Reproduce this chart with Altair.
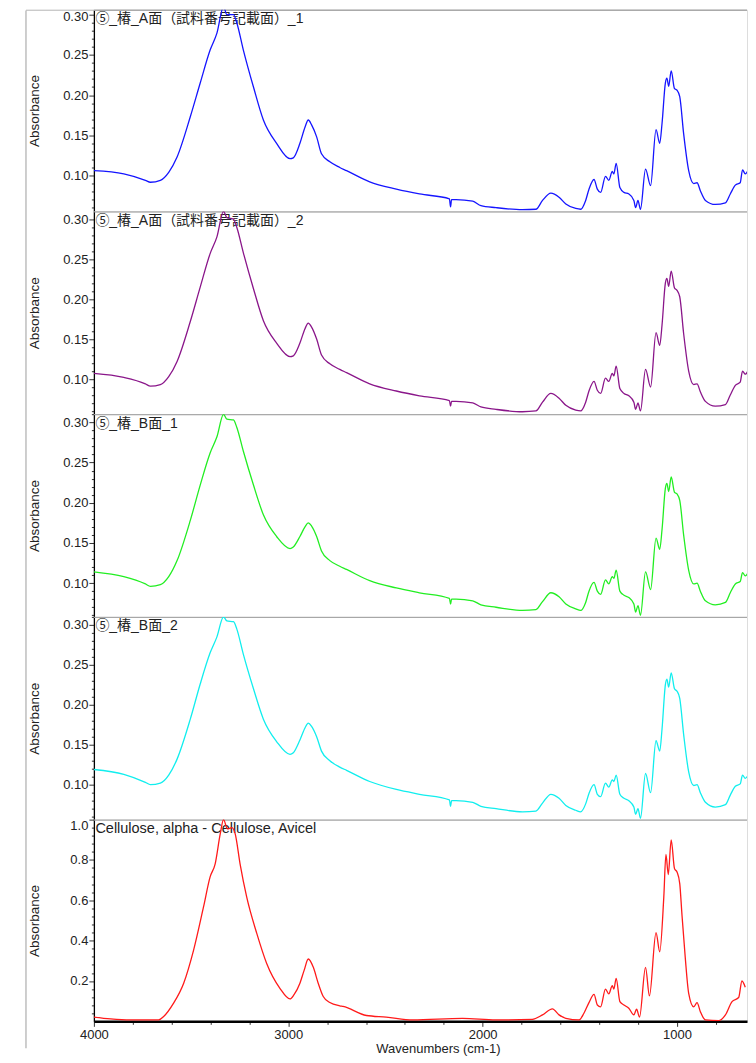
import altair as alt
import pandas as pd

# ---------------- data ----------------
WN = [4000, 3846, 3735, 3709, 3658, 3615, 3572, 3504, 3453, 3402, 3367, 3333,
      3316, 3282, 3265, 3231, 3179, 3128, 3060, 2991, 2974, 2940, 2914, 2897,
      2880, 2854, 2829, 2786, 2735, 2700, 2581, 2444, 2325, 2171, 2165, 2160,
      2137, 2051, 2009, 1931, 1795, 1726, 1692, 1649, 1607, 1572, 1521, 1496,
      1470, 1453, 1427, 1410, 1393, 1368, 1351, 1333, 1325, 1313, 1294, 1273,
      1248, 1222, 1213, 1201, 1188, 1162, 1136, 1108, 1089, 1077, 1060, 1052,
      1043, 1030, 1013, 1000, 986, 966, 940, 914, 897, 880, 854, 803, 751, 726,
      700, 675, 663, 649, 624, 600]

ABS_A1 = [0.106, 0.102, 0.094, 0.0916, 0.094, 0.104, 0.123, 0.173, 0.215, 0.256, 0.277, 0.31,
          0.300, 0.300, 0.290, 0.256, 0.210, 0.169, 0.140, 0.121, 0.122, 0.140, 0.160, 0.169,
          0.163, 0.148, 0.127, 0.117, 0.110, 0.106, 0.092, 0.083, 0.077, 0.071, 0.061, 0.070,
          0.070, 0.068, 0.0625, 0.060, 0.0575, 0.058, 0.069, 0.078, 0.073, 0.0646, 0.059, 0.058,
          0.069, 0.083, 0.095, 0.083, 0.079, 0.099, 0.094, 0.105, 0.102, 0.115, 0.085, 0.079,
          0.077, 0.069, 0.060, 0.069, 0.058, 0.108, 0.0875, 0.157, 0.140, 0.165, 0.215, 0.221,
          0.211, 0.230, 0.208, 0.206, 0.198, 0.152, 0.106, 0.090, 0.091, 0.081, 0.069, 0.064, 0.066, 0.077,
          0.088, 0.091, 0.107, 0.102, 0.110, 0.112]

ABS_A2 = [0.107, 0.102, 0.094, 0.091, 0.093, 0.103, 0.122, 0.172, 0.215, 0.257, 0.278, 0.31,
          0.302, 0.300, 0.290, 0.258, 0.213, 0.173, 0.145, 0.128, 0.129, 0.145, 0.163, 0.170,
          0.165, 0.150, 0.130, 0.119, 0.112, 0.108, 0.094, 0.085, 0.079, 0.073, 0.066, 0.072,
          0.072, 0.070, 0.065, 0.062, 0.059, 0.060, 0.071, 0.082, 0.076, 0.067, 0.061, 0.060,
          0.071, 0.085, 0.097, 0.086, 0.082, 0.101, 0.097, 0.107, 0.104, 0.116, 0.088, 0.082,
          0.079, 0.071, 0.062, 0.070, 0.060, 0.112, 0.090, 0.158, 0.142, 0.168, 0.220, 0.226,
          0.216, 0.235, 0.214, 0.211, 0.203, 0.157, 0.110, 0.093, 0.094, 0.084, 0.072, 0.066, 0.068, 0.080,
          0.092, 0.096, 0.110, 0.106, 0.114, 0.116]

ABS_B1 = [0.114, 0.108, 0.099, 0.096, 0.098, 0.108, 0.128, 0.178, 0.222, 0.262, 0.282, 0.31,
          0.304, 0.303, 0.294, 0.264, 0.222, 0.185, 0.158, 0.143, 0.145, 0.158, 0.170, 0.175,
          0.171, 0.158, 0.140, 0.128, 0.121, 0.117, 0.103, 0.094, 0.088, 0.081, 0.074, 0.080,
          0.080, 0.078, 0.073, 0.070, 0.066, 0.067, 0.077, 0.088, 0.083, 0.074, 0.068, 0.066,
          0.076, 0.090, 0.101, 0.090, 0.086, 0.104, 0.099, 0.108, 0.106, 0.116, 0.090, 0.085,
          0.082, 0.074, 0.064, 0.072, 0.060, 0.114, 0.092, 0.156, 0.142, 0.167, 0.218, 0.224,
          0.214, 0.232, 0.213, 0.211, 0.203, 0.160, 0.116, 0.099, 0.100, 0.090, 0.078, 0.073, 0.076, 0.088,
          0.099, 0.102, 0.113, 0.109, 0.116, 0.118]

ABS_B2 = [0.119, 0.113, 0.103, 0.100, 0.102, 0.112, 0.132, 0.182, 0.226, 0.265, 0.285, 0.31,
          0.305, 0.304, 0.295, 0.263, 0.220, 0.182, 0.154, 0.138, 0.140, 0.156, 0.171, 0.177,
          0.173, 0.160, 0.142, 0.130, 0.122, 0.118, 0.104, 0.094, 0.088, 0.081, 0.073, 0.080,
          0.080, 0.078, 0.073, 0.070, 0.066, 0.067, 0.077, 0.088, 0.083, 0.074, 0.068, 0.066,
          0.076, 0.089, 0.100, 0.088, 0.085, 0.102, 0.097, 0.106, 0.104, 0.112, 0.088, 0.083,
          0.080, 0.072, 0.063, 0.070, 0.058, 0.114, 0.090, 0.155, 0.142, 0.170, 0.225, 0.232,
          0.222, 0.240, 0.220, 0.217, 0.208, 0.163, 0.116, 0.099, 0.100, 0.090, 0.078, 0.072, 0.075, 0.087,
          0.098, 0.101, 0.112, 0.108, 0.115, 0.117]

WN_CELL = [4000, 3914, 3812, 3667, 3641, 3590, 3538, 3487, 3436, 3402, 3376, 3350, 3333,
           3313, 3290, 3273, 3248, 3214, 3162, 3111, 3043, 2991, 2971, 2940, 2918, 2897,
           2872, 2846, 2820, 2786, 2735, 2718, 2598, 2496, 2359, 2103, 1932, 1744, 1692,
           1641, 1607, 1572, 1504, 1479, 1453, 1427, 1410, 1393, 1368, 1351, 1333, 1325,
           1313, 1294, 1273, 1248, 1222, 1208, 1193, 1162, 1142, 1108, 1089, 1068, 1057,
           1045, 1030, 1013, 1000, 986, 975, 958, 940, 914, 897, 880, 854, 786, 751, 717,
           683, 666, 649]

ABS_CELL = [0.021, 0.012, 0.007, 0.007, 0.024, 0.090, 0.189, 0.353, 0.567, 0.716, 0.781, 0.929, 1.0,
            0.954, 0.960, 0.929, 0.781, 0.617, 0.436, 0.287, 0.164, 0.111, 0.131, 0.189, 0.254, 0.309,
            0.270, 0.189, 0.123, 0.093, 0.077, 0.074, 0.029, 0.021, 0.007, 0.015, 0.007, 0.010, 0.032,
            0.062, 0.032, 0.015, 0.007, 0.040, 0.093, 0.134, 0.081, 0.072, 0.160, 0.136, 0.177, 0.160,
            0.213, 0.098, 0.081, 0.065, 0.032, 0.060, 0.021, 0.268, 0.126, 0.440, 0.345, 0.617, 0.827,
            0.728, 0.900, 0.757, 0.740, 0.683, 0.534, 0.320, 0.139, 0.072, 0.093, 0.048, 0.007, 0.004, 0.032, 0.098,
            0.118, 0.200, 0.169]

TITLES = ["⑤_椿_A面（試料番号記載面）_1", "⑤_椿_A面（試料番号記載面）_2",
          "⑤_椿_B面_1", "⑤_椿_B面_2", "Cellulose, alpha - Cellulose, Avicel"]
COLORS = ["#1515ff", "#8a168a", "#22ee22", "#11eeee", "#ff1a1a"]

Y_TICKS_TOP = [0.06, 0.07, 0.08, 0.09, 0.10, 0.11, 0.12, 0.13, 0.14, 0.15, 0.16, 0.17,
               0.18, 0.19, 0.20, 0.21, 0.22, 0.23, 0.24, 0.25, 0.26, 0.27, 0.28, 0.29, 0.30]
Y_TICKS_SMALL = [0.06, 0.07, 0.08, 0.09, 0.10, 0.11, 0.12, 0.13, 0.14, 0.15, 0.16, 0.17,
                 0.18, 0.19, 0.20, 0.21, 0.22, 0.23, 0.24, 0.25, 0.26, 0.27, 0.28, 0.29, 0.30, 0.31]
Y_TICKS_CELL = [0.04, 0.08, 0.12, 0.16, 0.2, 0.24, 0.28, 0.32, 0.36, 0.4, 0.44, 0.48, 0.52,
                0.56, 0.6, 0.64, 0.68, 0.72, 0.76, 0.8, 0.84, 0.88, 0.92, 0.96, 1.0]
X_TICKS = [4000, 3800, 3600, 3400, 3200, 3000, 2800, 2600, 2400, 2200, 2000, 1800,
           1600, 1400, 1200, 1000, 800]

Y_DOMAINS = [[0.0553, 0.3062], [0.056, 0.3098], [0.058, 0.3102], [0.0563, 0.31], [0.0, 1.0]]

# ---------------- layout ----------------
W = 654
HEIGHTS = [202, 203, 203, 203, 202]
X_DOMAIN = [4000, 640]
FONT = "Liberation Sans, Noto Sans CJK JP"
TXT = "#222222"

series = [(WN, ABS_A1), (WN, ABS_A2), (WN, ABS_B1), (WN, ABS_B2), (WN_CELL, ABS_CELL)]
Y_TICK_SETS = [Y_TICKS_TOP, Y_TICKS_SMALL, Y_TICKS_SMALL, Y_TICKS_SMALL, Y_TICKS_CELL]


def panel(i):
    wn, ab = series[i]
    h = HEIGHTS[i]
    df = pd.DataFrame({"wn": wn, "a": ab})
    last = i == 4
    if last:
        test = "abs(datum.value*5 - round(datum.value*5)) < 0.001 && datum.value > 0.01"
        fmt = ".1f"
    else:
        test = "abs(datum.value*20 - round(datum.value*20)) < 0.001"
        fmt = ".2f"
    extra = {}
    if i == 0:
        extra["labelOffset"] = {"condition": {"test": "datum.value > 0.295", "value": 2}, "value": 0}
    yaxis = alt.Axis(
        values=Y_TICK_SETS[i],
        labelExpr=f"{test} ? format(datum.value, '{fmt}') : ''",
        tickSize={"condition": {"test": test, "value": 5}, "value": 2.5},
        labelFlush=last,
        labelPadding=1,
        grid=False,
        title="Absorbance",
        titleX=-55,
        titleY=h / 2,
        titleAlign="center",
        titleBaseline="alphabetic",
        titleAngle=270,
        titleFont=FONT,
        titleFontSize=13.5,
        titleFontWeight="normal",
        titleColor=TXT,
        labelFont=FONT,
        labelFontSize=13,
        labelColor=TXT,
        domainColor="#000000",
        domainWidth=1.3,
        tickColor="#333333",
        **extra,
    )
    if last:
        xaxis = alt.Axis(
            values=X_TICKS,
            format="d",
            labelExpr="datum.value % 1000 === 0 ? datum.label : ''",
            tickSize={"condition": {"test": "datum.value % 1000 === 0", "value": 5}, "value": 3},
            labelFlush=False,
            labelPadding=2,
            grid=False,
            title="Wavenumbers (cm-1)",
            titleX=344.5,
            titleY=31,
            titleAlign="center",
            titleBaseline="alphabetic",
            titleFont=FONT,
            titleFontSize=13,
            titleFontWeight="normal",
            titleColor=TXT,
            labelFont=FONT,
            labelFontSize=13,
            labelColor=TXT,
            domainColor="#000000",
            domainWidth=2.5,
            tickColor="#333333",
        )
    else:
        xaxis = None

    line = alt.Chart(df).mark_line(
        color=COLORS[i], strokeWidth=1.3, interpolate="monotone", clip=True
    ).encode(
        x=alt.X("wn:Q", scale=alt.Scale(domain=X_DOMAIN, nice=False, zero=False), axis=xaxis),
        y=alt.Y("a:Q", scale=alt.Scale(domain=Y_DOMAINS[i], nice=False, zero=False), axis=yaxis),
        order="o:Q",
    ).transform_window(o="row_number()")

    one = alt.Data(values=[{"t": TITLES[i]}])
    top = alt.Chart(one).mark_rule(color="#a0a0a0", strokeWidth=1).encode(
        x=alt.value(0), x2=alt.value(W), y=alt.value(0.5)
    )
    label = alt.Chart(one).mark_text(
        align="left", baseline="alphabetic", font=FONT,
        fontSize=14.5 if last else 14, color=TXT
    ).encode(text="t:N", x=alt.value(1.5), y=alt.value(13.5))
    layers = [top, label, line]
    if i == 0:
        frame_v = alt.Chart(one).mark_rule(color="#b4b4b4", strokeWidth=1.3).encode(
            x=alt.value(-68), y=alt.value(0.7), y2=alt.value(1040)
        )
        frame_h = alt.Chart(one).mark_rule(color="#b4b4b4", strokeWidth=1).encode(
            x=alt.value(-68), x2=alt.value(W), y=alt.value(0.5)
        )
        layers = [frame_v, frame_h] + layers
    return alt.layer(*layers).properties(width=W, height=h)


chart = alt.vconcat(*[panel(i) for i in range(5)], spacing=0, bounds="flush").properties(
    padding={"left": 16, "top": 0, "right": 0, "bottom": 0}
).configure_view(stroke=None).configure(background="white")

chart.save("out.html", embed_options={"renderer": "svg", "actions": False})
